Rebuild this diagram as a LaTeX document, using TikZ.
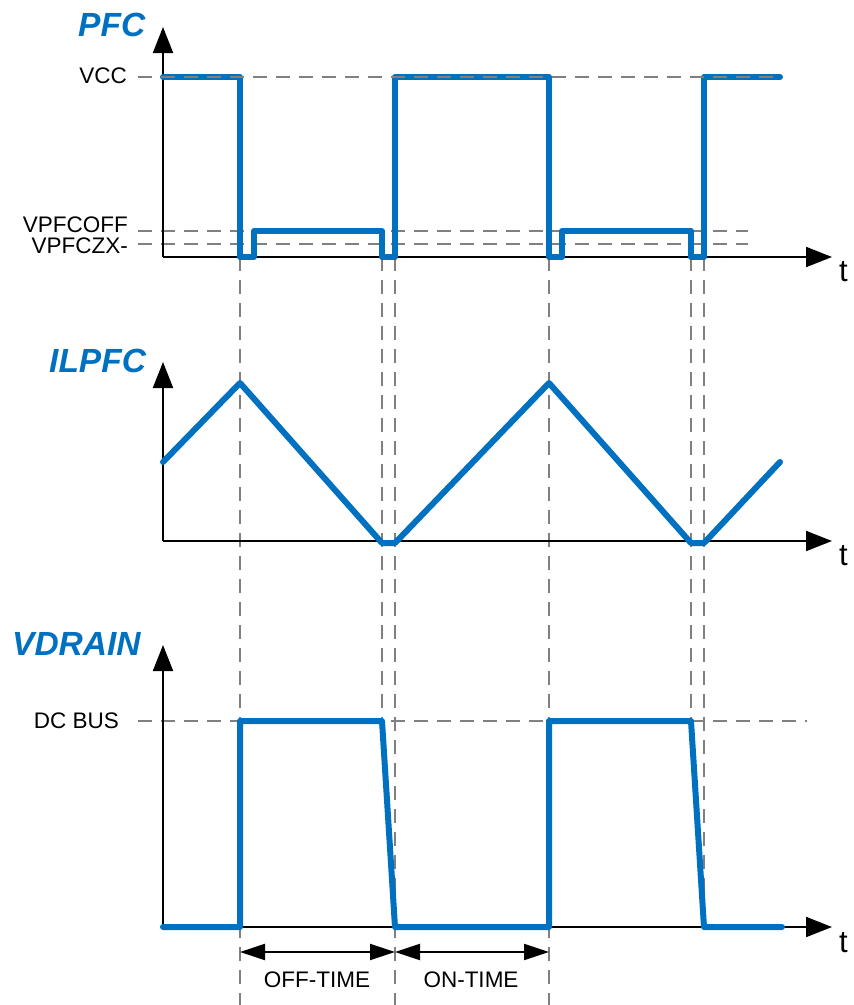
\documentclass[tikz,border=0pt]{standalone}
\usepackage{fontspec}
\setmainfont{Liberation Sans}
\usetikzlibrary{arrows.meta}
\definecolor{wblue}{RGB}{0,112,192}
\definecolor{dgrey}{RGB}{128,128,128}
\begin{document}
\begin{tikzpicture}[x=1pt,y=-1pt,
  wave/.style={wblue,line width=6pt,line cap=round,line join=round},
  guide/.style={dgrey,line width=2pt,dash pattern=on 14pt off 9pt},
  axisarrow/.style={black,line width=2pt,-{Triangle[length=26pt,width=20pt]}},
  lab/.style={font=\fontsize{22.5}{26}\selectfont,inner sep=0pt,anchor=base east},
  ttl/.style={font=\fontsize{33.5}{38}\selectfont\bfseries\itshape,text=wblue,inner sep=0pt,anchor=base west},
  tlab/.style={font=\fontsize{31}{34}\selectfont,inner sep=0pt,anchor=base west},
  dimarrow/.style={black,line width=2pt,{Triangle[length=25pt,width=16pt]}-{Triangle[length=25pt,width=16pt]}},
  dimtext/.style={font=\fontsize{22.5}{26}\selectfont,inner sep=0pt,anchor=base}]
\useasboundingbox (0,0) rectangle (854,1005);

% ---- reference coordinates
\coordinate (o1) at (163,257);
\coordinate (o2) at (163,541);
\coordinate (o3) at (163,927);

% ---- vertical guides
\draw[guide] (240,257) -- (240,1005);
\draw[guide] (382,257) -- (382,721);
\draw[guide] (395,257) -- (395,1005);
\draw[guide] (549,257) -- (549,1005);
\draw[guide] (691,257) -- (691,721);
\draw[guide] (704,257) -- (704,927);

% ---- horizontal guides (behind waves)
\draw[guide] (138,231) -- (748,231);
\draw[guide] (138,244) -- (748,244);
\draw[guide] (138,721) -- (807,721);

% ---- axes
\draw[axisarrow] (o1) -- (163,27);
\draw[axisarrow] (o1) -- (832,257);
\draw[axisarrow] (o2) -- (163,362);
\draw[axisarrow] (o2) -- (832,541);
\draw[axisarrow] (o3) -- (163,645);
\draw[axisarrow] (o3) -- (832,927);

% ---- waveforms
\draw[wave] (163,77) -- (240,77) -- (240,257) -- (254,257) -- (254,231)
  -- (382,231) -- (382,257) -- (395,257) -- (395,77) -- (549,77)
  -- (549,257) -- (562,257) -- (562,231) -- (691,231) -- (691,257)
  -- (704,257) -- (704,77) -- (780,77);
\draw[wave] (163,462) -- (240,383) -- (382,543) -- (395,543) -- (549,383)
  -- (691,543) -- (704,543) -- (780,462);
\draw[wave] (163,927) -- (240,927) -- (240,721) -- (382,721) -- (395,927)
  -- (549,927) -- (549,721) -- (691,721) -- (704,927) -- (782,927);

% ---- VCC guide (on top)
\draw[guide] (138,77) -- (780,77);

% ---- labels
\node[ttl] (tpfc) at (78,36) {PFC};
\node[ttl] (til) at (49,372) {ILPFC};
\node[ttl] (tvd) at (12,655) {VDRAIN};
\node[lab] (lvcc) at (127,83) {VCC};
\node[lab] (loff) at (128,232) {VPFCOFF};
\node[lab] (lzx) at (128,253) {VPFCZX-};
\node[lab] (ldc) at (119,728) {DC BUS};
\node[tlab] (t1) at (839,281) {t};
\node[tlab] (t2) at (839,565) {t};
\node[tlab] (t3) at (839,952) {t};

% ---- time spans
\coordinate (a0) at (240,952);
\coordinate (a1) at (395,952);
\coordinate (a2) at (549,952);
\draw[dimarrow] (a0) -- (a1);
\draw[dimarrow] (a1) -- (a2);
\node[dimtext] (offt) at (317,987) {OFF-TIME};
\node[dimtext] (ont) at (471,987) {ON-TIME};
\end{tikzpicture}
\end{document}
